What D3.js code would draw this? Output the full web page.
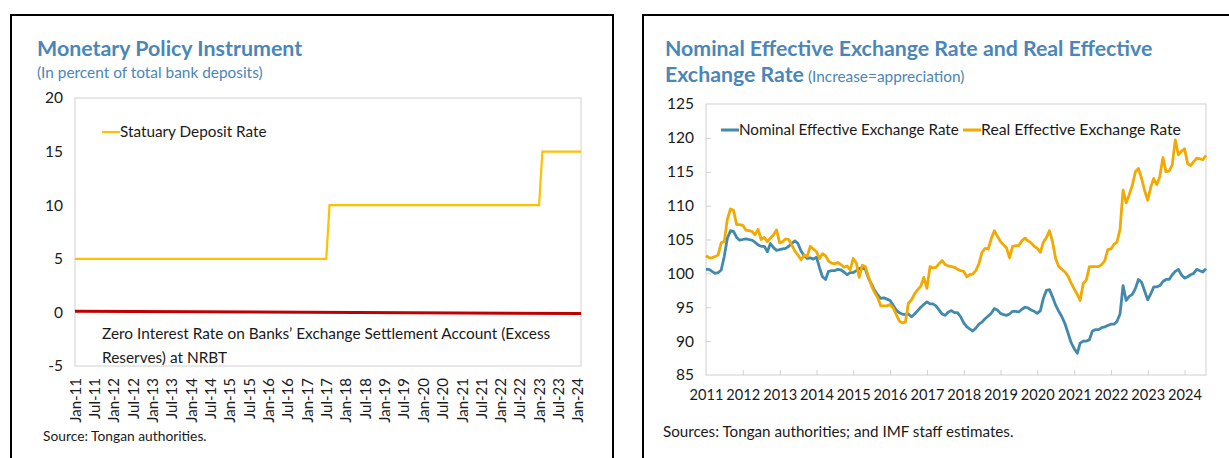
<!DOCTYPE html>
<html>
<head>
<meta charset="utf-8">
<script src="https://cdn.jsdelivr.net/npm/d3@7"></script>
<style>
  body { margin: 0; background: #fff; }
  svg { display: block; font-family: Lato, "Noto Sans", sans-serif; }
</style>
</head>
<body>
<script>
const WIDTH_SVG = 1229;
const HEIGHT_SVG = 458;

// ---- data: left panel (step changes of the statutory deposit rate)
const depositDates = ["2011-01", "2017-07", "2017-08", "2023-01", "2023-02", "2024-02"];
const depositRate = [5, 5, 10, 10, 15, 15];
const zeroDates = ["2011-01", "2024-02"];
const zeroRate = [0.1, -0.1];
const leftYTicks = [-5, 0, 5, 10, 15, 20];

// ---- data: right panel (monthly, Jan 2011 - Aug 2024)
const startMonth = "2011-01";
const neer = [
  100.6, 100.6, 100.3, 100.0, 100.1, 100.5, 102.5, 105.2, 106.3, 106.2, 105.3, 104.9,
  105.0, 105.1, 105.0, 104.9, 104.6, 104.2, 104.0, 104.0, 103.2, 104.4, 103.8, 103.4,
  103.5, 103.6, 103.7, 104.0, 104.4, 104.8, 104.4, 103.3, 102.6, 102.2, 102.3, 102.1,
  102.4, 100.8, 99.5, 99.1, 100.3, 100.4, 100.4, 100.6, 100.5, 100.2, 99.8, 100.1,
  100.1, 100.4, 100.7, 100.8, 100.6, 99.3, 98.4, 97.5, 96.8, 96.3, 96.4, 96.2,
  96.0, 95.3, 94.6, 94.2, 94.0, 93.9, 94.0, 93.6, 94.0, 94.5, 95.0, 95.4,
  95.8, 95.5, 95.5, 95.2, 94.6, 94.0, 93.8, 94.3, 94.5, 94.2, 94.2, 93.6,
  92.7, 92.1, 91.8, 91.5, 91.9, 92.5, 92.8, 93.3, 93.7, 94.1, 94.8, 94.6,
  94.1, 93.9, 93.8, 94.0, 94.4, 94.4, 94.3, 94.7, 95.0, 94.9, 94.6, 94.4,
  94.1, 94.5, 96.3, 97.5, 97.6, 96.5, 95.3, 94.4, 93.6, 92.6, 91.2, 89.8,
  88.9, 88.2, 89.7, 90.0, 90.0, 90.2, 91.5, 91.7, 91.7, 92.0, 92.1, 92.3,
  92.5, 92.5, 92.9, 94.0, 98.2, 96.0, 96.6, 96.9, 97.8, 99.1, 98.7, 97.4,
  96.1, 97.0, 98.0, 98.0, 98.2, 98.8, 99.1, 99.1, 99.8, 100.3, 100.6, 99.8,
  99.3, 99.5, 99.8, 100.0, 100.6, 100.4, 100.2, 100.7
];
const reer = [
  102.6, 102.3, 102.3, 102.5, 102.7, 104.5, 104.7, 108.0, 109.5, 109.3, 107.2, 107.2,
  107.1, 106.4, 106.3, 106.2, 105.7, 106.5, 105.0, 105.3, 104.7, 105.2, 105.7, 106.4,
  104.5, 104.7, 105.1, 105.0, 104.2, 103.3, 102.7, 102.0, 102.7, 102.5, 104.0, 103.6,
  103.2, 102.2, 102.9, 102.6, 101.8, 101.5, 101.4, 101.6, 101.3, 100.9, 101.1, 100.5,
  102.2, 101.5, 99.4, 101.2, 101.0, 99.5, 98.2, 97.2, 96.4, 95.2, 95.2, 95.2,
  95.4, 94.9, 94.0, 93.0, 92.7, 92.8, 95.6, 96.1, 97.0, 97.6, 98.1, 99.4,
  97.8, 101.0, 100.8, 100.9, 101.4, 101.9, 101.3, 101.1, 101.0, 100.9, 100.6, 100.4,
  100.3, 99.5, 99.8, 99.9, 100.4, 101.4, 103.1, 103.7, 103.6, 105.1, 106.3, 105.5,
  104.7, 104.2, 103.8, 102.3, 104.0, 104.1, 104.1, 104.8, 105.2, 104.8, 104.5, 104.0,
  103.7, 103.1, 104.6, 105.3, 106.3, 104.6, 102.2, 101.0, 100.6, 100.2, 99.6, 98.6,
  97.7, 96.9, 96.0, 98.5, 99.0, 101.0, 101.0, 101.0, 101.0, 101.3, 101.9, 103.5,
  103.6, 104.3, 104.6, 106.5, 112.3, 110.4, 111.6, 113.0, 115.0, 115.5, 114.0, 112.2,
  110.8, 112.8, 114.0, 113.1, 114.3, 117.1, 115.0, 115.1, 116.0, 119.7, 117.5, 118.0,
  118.4, 116.2, 115.9, 116.5, 117.0, 116.9, 116.8, 117.4
];
const rightYTicks = [85, 90, 95, 100, 105, 110, 115, 120, 125];
const yearTicks = ["2011", "2012", "2013", "2014", "2015", "2016", "2017",
  "2018", "2019", "2020", "2021", "2022", "2023", "2024"];

const TITLE_BLUE = "#4a86b8";
const TEXT_COLOR = "#1a1a1a";
const BORDER_GREY = "#d0d0d0";

const parseMonth = d3.timeParse("%Y-%m");

const svg = d3.select("body")
    .append("svg")
        .attr("width", WIDTH_SVG)
        .attr("height", HEIGHT_SVG)
        .attr("viewBox", `0 0 ${WIDTH_SVG} ${HEIGHT_SVG}`);

// panel frames
svg.append("rect")
    .attr("x", 11).attr("y", 15).attr("width", 602).attr("height", 470)
    .attr("fill", "none").attr("stroke", "#000").attr("stroke-width", 2);
svg.append("rect")
    .attr("x", 643).attr("y", 15).attr("width", 600).attr("height", 470)
    .attr("fill", "none").attr("stroke", "#000").attr("stroke-width", 2);

function addText(x, y, str, opts) {
    return svg.append("text")
        .attr("x", x).attr("y", y)
        .attr("font-size", opts.size)
        .attr("font-weight", opts.weight || "normal")
        .attr("fill", opts.color || TEXT_COLOR)
        .attr("text-anchor", opts.anchor || "start")
        .text(str);
}

function legendItem(x, y, color, width, label, size) {
    svg.append("line")
        .attr("x1", x).attr("x2", x + 18)
        .attr("y1", y).attr("y2", y)
        .attr("stroke", color).attr("stroke-width", width);
    addText(x + 18, y + 5, label, {size: size});
}

// ================= left panel =================
const L = {left: 75, right: 581, top: 98, bottom: 366};

const xL = d3.scaleTime()
    .domain([parseMonth("2011-01"), parseMonth("2024-02")])
    .range([L.left, L.right]);
const yL = d3.scaleLinear()
    .domain([-5, 20])
    .range([L.bottom, L.top]);

addText(37, 56, "Monetary Policy Instrument", {size: 21.4, weight: "bold", color: TITLE_BLUE});
addText(37, 78, "(In percent of total bank deposits)", {size: 15.4, color: TITLE_BLUE});

svg.append("rect")
    .attr("x", L.left).attr("y", L.top)
    .attr("width", L.right - L.left).attr("height", L.bottom - L.top)
    .attr("fill", "none").attr("stroke", BORDER_GREY);

svg.append("g")
    .attr("transform", `translate(${L.left - 12},0)`)
    .call(d3.axisLeft(yL).tickValues(leftYTicks).tickSize(0).tickPadding(0).tickFormat(d => String(d)))
    .call(g => g.select(".domain").remove())
    .call(g => g.selectAll("text").attr("font-size", 15.5).attr("fill", TEXT_COLOR)
        .attr("font-family", "Lato, sans-serif"));

const halfYears = d3.timeMonth.every(6).range(parseMonth("2011-01"), parseMonth("2024-02"));
svg.append("g")
    .attr("transform", `translate(0,${L.bottom})`)
    .call(d3.axisBottom(xL).tickValues(halfYears).tickFormat(d3.timeFormat("%b-%y")).tickSize(0))
    .call(g => g.select(".domain").remove())
    .call(g => g.selectAll("text")
        .attr("font-size", 15).attr("fill", TEXT_COLOR)
        .attr("font-family", "Lato, sans-serif")
        .attr("text-anchor", "end")
        .attr("transform", "rotate(-90)")
        .attr("x", -12).attr("y", 0).attr("dy", "0.35em"));

const stepLine = d3.line()
    .x(d => xL(d[0]))
    .y(d => yL(d[1]));

svg.append("path")
    .datum(zeroDates.map((d, i) => [parseMonth(d), zeroRate[i]]))
    .attr("d", stepLine)
    .attr("fill", "none").attr("stroke", "#c00000").attr("stroke-width", 3);

svg.append("path")
    .datum(depositDates.map((d, i) => [parseMonth(d), depositRate[i]]))
    .attr("d", stepLine)
    .attr("fill", "none").attr("stroke", "#ffc000").attr("stroke-width", 2.2);

legendItem(102, 132, "#ffc000", 2.2, "Statuary Deposit Rate", 15.3);
addText(102, 339, "Zero Interest Rate on Banks\u2019 Exchange Settlement Account (Excess", {size: 15.4});
addText(102, 363, "Reserves) at NRBT", {size: 15.4});

addText(43, 441, "Source: Tongan authorities.", {size: 13.8});

// ================= right panel =================
const R = {left: 706, right: 1206, top: 104, bottom: 375};

const months = neer.map((_, i) => d3.timeMonth.offset(parseMonth(startMonth), i));

const xR = d3.scaleTime()
    .domain([months[0], months[months.length - 1]])
    .range([R.left, R.right]);
const yR = d3.scaleLinear()
    .domain([85, 125])
    .range([R.bottom, R.top]);

addText(665, 56, "Nominal Effective Exchange Rate and Real Effective", {size: 21.3, weight: "bold", color: TITLE_BLUE});
const t2 = addText(665, 82, "Exchange Rate", {size: 21.3, weight: "bold", color: TITLE_BLUE});
t2.append("tspan").attr("font-size", 15.4).attr("font-weight", "normal").text(" (Increase=appreciation)");

svg.append("rect")
    .attr("x", R.left).attr("y", R.top)
    .attr("width", R.right - R.left).attr("height", R.bottom - R.top)
    .attr("fill", "none").attr("stroke", BORDER_GREY);

// inner tick marks
svg.append("g")
    .attr("transform", `translate(${R.left},0)`)
    .call(d3.axisRight(yR).tickValues(rightYTicks.slice(1, -1)).tickSize(5).tickFormat(""))
    .call(g => g.select(".domain").remove())
    .call(g => g.selectAll("line").attr("stroke", BORDER_GREY));

svg.append("g")
    .attr("transform", `translate(${R.left - 12},0)`)
    .call(d3.axisLeft(yR).tickValues(rightYTicks).tickSize(0).tickPadding(0))
    .call(g => g.select(".domain").remove())
    .call(g => g.selectAll("text").attr("font-size", 15.5).attr("fill", TEXT_COLOR)
        .attr("font-family", "Lato, sans-serif"));

const yearDates = yearTicks.map(y => d3.timeParse("%Y")(y));
svg.append("g")
    .attr("transform", `translate(0,${R.bottom})`)
    .call(d3.axisTop(xR).tickValues(yearDates.slice(1)).tickSize(5).tickFormat(""))
    .call(g => g.select(".domain").remove())
    .call(g => g.selectAll("line").attr("stroke", BORDER_GREY));

svg.append("g")
    .attr("transform", `translate(0,${R.bottom})`)
    .call(d3.axisBottom(xR).tickValues(yearDates).tickSize(0).tickPadding(15)
        .tickFormat(d3.timeFormat("%Y")))
    .call(g => g.select(".domain").remove())
    .call(g => g.selectAll("text").attr("font-size", 14.6).attr("fill", TEXT_COLOR)
        .attr("font-family", "Lato, sans-serif"));

const rateLine = d3.line()
    .x((d, i) => xR(months[i]))
    .y(d => yR(d));

svg.append("path")
    .datum(neer)
    .attr("d", rateLine)
    .attr("fill", "none").attr("stroke", "#4189ad").attr("stroke-width", 2.8)
    .attr("stroke-linejoin", "round");

svg.append("path")
    .datum(reer)
    .attr("d", rateLine)
    .attr("fill", "none").attr("stroke", "#f2a900").attr("stroke-width", 2.8)
    .attr("stroke-linejoin", "round");

legendItem(721, 130, "#4189ad", 3, "Nominal Effective Exchange Rate", 15.2);
legendItem(963, 130, "#f2a900", 3, "Real Effective Exchange Rate", 15.8);

addText(663, 437, "Sources: Tongan authorities; and IMF staff estimates.", {size: 15.2});
</script>
</body>
</html>
